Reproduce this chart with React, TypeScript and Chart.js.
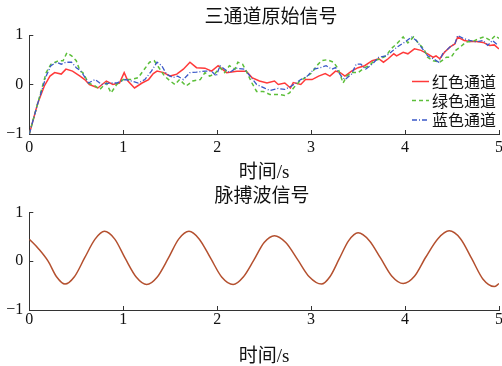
import React, { useEffect, useRef } from 'react';
import { Chart, registerables } from 'chart.js';

Chart.register(...registerables);

// ---------------- data ----------------
const topTitle = '三通道原始信号';
const bottomTitle = '脉搏波信号';
const xAxisTitle = '时间/s';
const legendLabels = ['红色通道', '绿色通道', '蓝色通道'];
const xTickValues = [0, 1, 2, 3, 4, 5];
const yTickValues = [-1, 0, 1];

const redTime = [0, 0.09, 0.16, 0.22, 0.27, 0.34, 0.39, 0.46, 0.54, 0.59, 0.64, 0.73, 0.82, 0.89, 0.96, 1.01, 1.05, 1.12, 1.2, 1.27, 1.32, 1.36, 1.43, 1.5, 1.57, 1.64, 1.71, 1.78, 1.87, 1.94, 2.01, 2.1, 2.21, 2.31, 2.37, 2.45, 2.53, 2.61, 2.65, 2.72, 2.78, 2.81, 2.89, 2.94, 3.01, 3.08, 3.15, 3.2, 3.26, 3.31, 3.36, 3.43, 3.5, 3.57, 3.65, 3.72, 3.77, 3.82, 3.88, 3.91, 3.98, 4.03, 4.1, 4.17, 4.24, 4.3, 4.33, 4.37, 4.42, 4.48, 4.53, 4.56, 4.63, 4.69, 4.76, 4.83, 4.9, 4.95, 5.0];
const redValues = [-1, -0.38, -0.03, 0.17, 0.24, 0.21, 0.31, 0.27, 0.17, 0.1, 0.0, -0.07, 0.07, 0.0, 0.03, 0.24, 0.07, -0.07, 0.03, 0.1, 0.22, 0.27, 0.24, 0.17, 0.21, 0.31, 0.45, 0.34, 0.33, 0.27, 0.38, 0.24, 0.27, 0.27, 0.14, 0.07, 0.03, 0.07, 0.0, 0.03, -0.07, 0.04, 0.0, 0.1, 0.1, 0.17, 0.22, 0.17, 0.27, 0.24, 0.17, 0.27, 0.34, 0.38, 0.48, 0.52, 0.45, 0.52, 0.62, 0.58, 0.65, 0.62, 0.72, 0.69, 0.62, 0.55, 0.58, 0.52, 0.65, 0.76, 0.82, 0.96, 0.89, 0.87, 0.87, 0.85, 0.79, 0.8, 0.72];

const greenTime = [0, 0.09, 0.18, 0.23, 0.31, 0.36, 0.4, 0.45, 0.5, 0.54, 0.57, 0.63, 0.7, 0.75, 0.82, 0.87, 0.93, 1.0, 1.09, 1.16, 1.21, 1.28, 1.33, 1.39, 1.44, 1.5, 1.55, 1.6, 1.67, 1.74, 1.82, 1.87, 1.92, 1.97, 2.03, 2.08, 2.13, 2.19, 2.22, 2.27, 2.31, 2.37, 2.42, 2.49, 2.56, 2.65, 2.72, 2.77, 2.83, 2.88, 2.94, 3.01, 3.06, 3.11, 3.17, 3.24, 3.29, 3.34, 3.38, 3.43, 3.5, 3.57, 3.62, 3.67, 3.74, 3.8, 3.85, 3.91, 3.98, 4.03, 4.09, 4.14, 4.2, 4.24, 4.3, 4.37, 4.44, 4.49, 4.54, 4.59, 4.65, 4.72, 4.79, 4.84, 4.91, 4.96, 5.0];
const greenValues = [-1, -0.38, 0.24, 0.41, 0.48, 0.48, 0.64, 0.58, 0.48, 0.27, 0.24, 0.03, -0.03, -0.1, 0.03, -0.17, 0.0, 0.1, 0.1, 0.14, 0.27, 0.45, 0.48, 0.31, 0.17, 0.07, 0.0, 0.1, -0.03, 0.07, 0.1, 0.24, 0.17, 0.21, 0.34, 0.24, 0.38, 0.31, 0.45, 0.41, 0.27, 0.03, -0.14, -0.14, -0.2, -0.2, -0.22, -0.17, -0.03, 0.07, 0.14, 0.24, 0.38, 0.48, 0.5, 0.45, 0.31, 0.03, 0.17, 0.24, 0.24, 0.34, 0.38, 0.48, 0.52, 0.58, 0.72, 0.82, 0.96, 0.84, 0.96, 0.84, 0.72, 0.55, 0.48, 0.45, 0.55, 0.55, 0.69, 0.76, 0.86, 0.87, 0.93, 0.96, 0.89, 0.99, 0.93];

const blueTime = [0, 0.09, 0.18, 0.23, 0.29, 0.34, 0.39, 0.45, 0.5, 0.55, 0.63, 0.7, 0.77, 0.86, 0.93, 1.02, 1.09, 1.16, 1.23, 1.3, 1.36, 1.41, 1.46, 1.53, 1.58, 1.64, 1.71, 1.78, 1.87, 1.94, 1.99, 2.03, 2.08, 2.13, 2.2, 2.29, 2.35, 2.42, 2.5, 2.56, 2.65, 2.72, 2.79, 2.84, 2.89, 2.96, 3.03, 3.1, 3.16, 3.22, 3.26, 3.32, 3.36, 3.43, 3.48, 3.53, 3.58, 3.65, 3.72, 3.8, 3.85, 3.91, 4.0, 4.07, 4.12, 4.17, 4.24, 4.3, 4.36, 4.4, 4.48, 4.53, 4.56, 4.62, 4.69, 4.76, 4.83, 4.88, 4.93, 4.99];
const blueValues = [-1, -0.38, 0.17, 0.38, 0.45, 0.41, 0.45, 0.45, 0.34, 0.27, 0.03, 0.1, 0.0, 0.03, 0.03, 0.1, 0.07, 0.03, 0.1, 0.27, 0.45, 0.38, 0.21, 0.14, 0.17, 0.1, 0.24, 0.25, 0.27, 0.27, 0.17, 0.38, 0.31, 0.24, 0.33, 0.31, 0.17, 0.0, -0.07, -0.12, -0.08, -0.1, -0.03, 0.03, 0.1, 0.17, 0.31, 0.34, 0.38, 0.31, 0.34, 0.17, 0.1, 0.21, 0.41, 0.41, 0.31, 0.41, 0.55, 0.58, 0.65, 0.75, 0.86, 0.96, 0.89, 0.76, 0.58, 0.52, 0.45, 0.62, 0.76, 0.82, 0.99, 0.93, 0.89, 0.86, 0.89, 0.79, 0.89, 0.79];

const pulseTime = [0, 0.1, 0.2, 0.29, 0.38, 0.48, 0.59, 0.7, 0.8, 0.91, 1.02, 1.14, 1.25, 1.36, 1.48, 1.59, 1.7, 1.81, 1.93, 2.05, 2.17, 2.28, 2.39, 2.5, 2.61, 2.73, 2.86, 2.98, 3.11, 3.2, 3.3, 3.4, 3.5, 3.62, 3.74, 3.86, 3.98, 4.1, 4.22, 4.35, 4.47, 4.59, 4.71, 4.83, 4.95, 5.0];
const pulseValues = [0.45, 0.25, 0.0, -0.32, -0.47, -0.32, 0.07, 0.45, 0.61, 0.45, 0.06, -0.33, -0.48, -0.33, 0.06, 0.45, 0.61, 0.45, 0.06, -0.33, -0.48, -0.32, 0.02, 0.38, 0.52, 0.38, 0.02, -0.32, -0.47, -0.32, 0.05, 0.42, 0.58, 0.42, 0.06, -0.31, -0.46, -0.31, 0.08, 0.46, 0.62, 0.46, 0.05, -0.37, -0.52, -0.46];

// ---------------- styling ----------------
const W = 502;
const H = 183;
const SERIF = '"Liberation Serif", "Times New Roman", serif';
const MIXED = '"Liberation Serif", "Noto Sans CJK SC", serif';
const CJK = '"Noto Sans CJK SC", sans-serif';
const INK = '#111';
const AXIS = '#333';

const toPoints = (t: number[], v: number[]) => t.map((x, i) => ({ x, y: v[i] }));

const fmtY = (v: number) => (v < 0 ? '\u2212' + Math.abs(v) : String(v));

const panelTitle = {
  id: 'panelTitle',
  afterDraw(chart: any, _args: any, opts: any) {
    const { ctx } = chart;
    ctx.save();
    ctx.fillStyle = INK;
    ctx.font = '19px ' + CJK;
    ctx.textAlign = 'center';
    ctx.textBaseline = 'middle';
    ctx.fillText(opts.text, opts.cx, opts.cy);
    ctx.restore();
  },
};

const innerLegend = {
  id: 'innerLegend',
  afterDatasetsDraw(chart: any) {
    const { ctx } = chart;
    const rowsY = [81.5, 100.5, 120];
    ctx.save();
    legendLabels.forEach((label, i) => {
      const ds = chart.data.datasets[i];
      const y = rowsY[i];
      ctx.beginPath();
      ctx.setLineDash(ds.borderDash || []);
      ctx.strokeStyle = ds.borderColor;
      ctx.lineWidth = ds.borderWidth;
      ctx.moveTo(412, y);
      ctx.lineTo(429, y);
      ctx.stroke();
      ctx.setLineDash([]);
      ctx.fillStyle = INK;
      ctx.font = '16px ' + CJK;
      ctx.textBaseline = 'middle';
      ctx.textAlign = 'left';
      ctx.fillText(label, 432, y);
    });
    ctx.restore();
  },
};

type P = {
  title: string;
  titleCx: number;
  titleCy: number;
  chartTop: number;
  chartBottom: number;
  xTickPad: number;
  xTitlePadBottom: number;
};

function buildOptions(p: P): any {
  return {
    responsive: false,
    animation: false,
    events: [],
    layout: { padding: { left: 0, right: 3, top: p.chartTop, bottom: 0 }, autoPadding: false },
    plugins: {
      legend: { display: false },
      tooltip: { enabled: false },
      title: { display: false },
      panelTitle: { text: p.title, cx: p.titleCx, cy: p.titleCy },
    },
    scales: {
      x: {
        type: 'linear',
        min: 0,
        max: 5,
        afterBuildTicks: (s: any) => {
          s.ticks = xTickValues.map((v) => ({ value: v }));
        },
        ticks: {
          font: { family: SERIF, size: 16 },
          color: INK,
          padding: p.xTickPad,
          maxRotation: 0,
          autoSkip: false,
          callback: (v: any) => String(v),
        },
        grid: { drawOnChartArea: false, drawTicks: true, tickLength: -4, color: AXIS, tickWidth: 1 },
        border: { display: true, color: AXIS, width: 1 },
        title: {
          display: true,
          text: xAxisTitle,
          color: INK,
          font: { family: MIXED, size: 19, lineHeight: 1.2 },
          padding: { top: 0, bottom: p.xTitlePadBottom },
        },
        afterFit: (s: any) => {
          s.height = H - p.chartBottom;
          s.paddingLeft = 0;
          s.paddingRight = 0;
        },
      },
      y: {
        type: 'linear',
        min: -1,
        max: 1,
        afterBuildTicks: (s: any) => {
          s.ticks = yTickValues.map((v) => ({ value: v }));
        },
        ticks: {
          font: { family: SERIF, size: 16 },
          color: INK,
          padding: 10,
          autoSkip: false,
          callback: (v: any) => fmtY(Number(v)),
        },
        grid: { drawOnChartArea: false, drawTicks: true, tickLength: -4, color: AXIS, tickWidth: 1 },
        border: { display: true, color: AXIS, width: 1 },
        afterFit: (s: any) => {
          s.width = 29.3;
          s.paddingTop = 0;
          s.paddingBottom = 0;
        },
      },
    },
    elements: { point: { radius: 0 }, line: { tension: 0 } },
  };
}

export default function App() {
  const topRef = useRef<HTMLCanvasElement | null>(null);
  const bottomRef = useRef<HTMLCanvasElement | null>(null);

  useEffect(() => {
    const top = new Chart(topRef.current as HTMLCanvasElement, {
      type: 'line',
      data: {
        datasets: [
          {
            label: legendLabels[0],
            data: toPoints(redTime, redValues),
            borderColor: '#ff3a3a',
            borderWidth: 1.5,
            fill: false,
            order: 2,
          },
          {
            label: legendLabels[1],
            data: toPoints(greenTime, greenValues),
            borderColor: '#5cbf3a',
            borderWidth: 1.5,
            borderDash: [4, 3],
            fill: false,
            order: 1,
          },
          {
            label: legendLabels[2],
            data: toPoints(blueTime, blueValues),
            borderColor: '#3a58c8',
            borderWidth: 1.3,
            borderDash: [5, 2, 1, 2],
            fill: false,
            order: 0,
          },
        ],
      },
      options: buildOptions({
        title: topTitle,
        titleCx: 271,
        titleCy: 16,
        chartTop: 35,
        chartBottom: 134,
        xTickPad: 8,
        xTitlePadBottom: -1,
      }),
      plugins: [innerLegend, panelTitle],
    } as any);

    const bottom = new Chart(bottomRef.current as HTMLCanvasElement, {
      type: 'line',
      data: {
        datasets: [
          {
            label: bottomTitle,
            data: toPoints(pulseTime, pulseValues),
            borderColor: '#b4502f',
            borderWidth: 1.5,
            fill: false,
            cubicInterpolationMode: 'monotone',
          },
        ],
      },
      options: buildOptions({
        title: bottomTitle,
        titleCx: 262,
        titleCy: 12,
        chartTop: 29.3,
        chartBottom: 127,
        xTickPad: 4.5,
        xTitlePadBottom: -2,
      }),
      plugins: [panelTitle],
    } as any);

    return () => {
      top.destroy();
      bottom.destroy();
    };
  }, []);

  return (
    <div style={{ position: 'fixed', left: 0, top: 0, width: W, height: 2 * H, background: '#fff' }}>
      <canvas ref={topRef} width={W} height={H} style={{ display: 'block', width: W, height: H }} />
      <canvas ref={bottomRef} width={W} height={H} style={{ display: 'block', width: W, height: H }} />
    </div>
  );
}
